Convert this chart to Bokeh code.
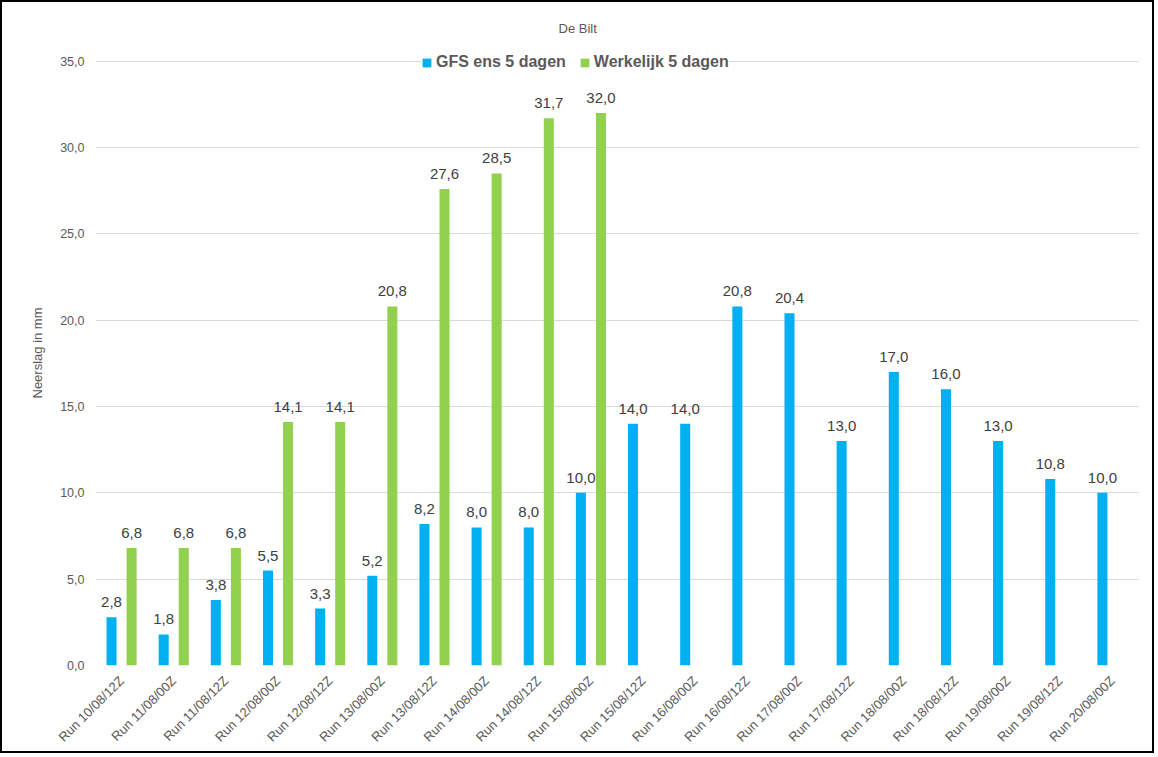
from bokeh.plotting import figure
from bokeh.models import ColumnDataSource, FactorRange, LabelSet, CustomJSTickFormatter, Legend, LegendItem, Range1d
from bokeh.transform import dodge
from bokeh.embed import file_html
from bokeh.resources import INLINE
from bokeh.core.properties import value
import math

categories = ["Run 10/08/12Z", "Run 11/08/00Z", "Run 11/08/12Z", "Run 12/08/00Z", "Run 12/08/12Z",
              "Run 13/08/00Z", "Run 13/08/12Z", "Run 14/08/00Z", "Run 14/08/12Z", "Run 15/08/00Z",
              "Run 15/08/12Z", "Run 16/08/00Z", "Run 16/08/12Z", "Run 17/08/00Z", "Run 17/08/12Z",
              "Run 18/08/00Z", "Run 18/08/12Z", "Run 19/08/00Z", "Run 19/08/12Z", "Run 20/08/00Z"]
gfs = [2.8, 1.8, 3.8, 5.5, 3.3, 5.2, 8.2, 8.0, 8.0, 10.0, 14.0, 14.0, 20.8, 20.4, 13.0, 17.0, 16.0, 13.0, 10.8, 10.0]
werkelijk = [6.8, 6.8, 6.8, 14.1, 14.1, 20.8, 27.6, 28.5, 31.7, 32.0]
y_ticks = [0, 5, 10, 15, 20, 25, 30, 35]

BLUE = "#00B0F0"
GREEN = "#92D050"
TXT = "#595959"
FONT = "Liberation Sans"

def fmt(v):
    return ("%.1f" % v).replace(".", ",")

src_g = ColumnDataSource(dict(cat=categories, v=gfs, lab=[fmt(v) for v in gfs]))
src_w = ColumnDataSource(dict(cat=categories[:len(werkelijk)], v=werkelijk, lab=[fmt(v) for v in werkelijk]))

p = figure(width=1154, height=753, x_range=FactorRange(*categories), y_range=Range1d(0, 36.2),
           output_backend="svg", toolbar_location=None, title="De Bilt",
           min_border_left=93, min_border_right=18, min_border_top=38, min_border_bottom=90)
p.styles = {"border": "2px solid black"}

p.title.align = "left"
p.title.offset = 463
p.title.standoff = 9
p.title.text_font = FONT
p.title.text_font_size = "13px"
p.title.text_font_style = "normal"
p.title.text_color = TXT

off = 10.0 / 52.0
rg = p.vbar(x=dodge("cat", -off, range=p.x_range), top="v", width=off, source=src_g,
            fill_color=BLUE, line_color=None)
rw = p.vbar(x=dodge("cat", off, range=p.x_range), top="v", width=off, source=src_w,
            fill_color=GREEN, line_color=None)

for src, d in ((src_g, -off), (src_w, off)):
    lbl = LabelSet(x=dodge("cat", d, range=p.x_range), y="v", text="lab", source=src,
                   text_align="center", text_baseline="bottom", y_offset=10,
                   text_font=value(FONT), text_font_size="15px", text_color="#404040")
    p.add_layout(lbl)

p.yaxis.ticker = y_ticks
p.yaxis.formatter = CustomJSTickFormatter(code="return tick.toFixed(1).replace('.', ',');")
p.yaxis.axis_label = "Neerslag in mm"
p.yaxis.axis_label_text_font = FONT
p.yaxis.axis_label_text_font_size = "13px"
p.yaxis.axis_label_text_font_style = "normal"
p.yaxis.axis_label_text_color = TXT
p.yaxis.axis_label_standoff = 12

for ax in (p.xaxis, p.yaxis):
    ax.axis_line_color = None
    ax.major_tick_line_color = None
    ax.minor_tick_line_color = None
    ax.major_label_text_font = FONT
    ax.major_label_text_font_size = "12.5px"
    ax.major_label_text_color = TXT
p.xaxis.major_label_text_font_size = "13px"
p.yaxis.major_label_standoff = 5
p.xaxis.major_label_orientation = math.pi / 4
p.xaxis.major_label_standoff = 7

p.xgrid.grid_line_color = None
p.ygrid.grid_line_color = "#D9D9D9"
p.ygrid.ticker = y_ticks
p.outline_line_color = None
p.x_range.range_padding = 0.0

legend = Legend(items=[LegendItem(label="GFS ens 5 dagen", renderers=[rg]),
                       LegendItem(label="Werkelijk 5 dagen", renderers=[rw])],
                orientation="horizontal", location=(326, 594),
                label_text_font=FONT, label_text_font_size="16px", label_text_font_style="bold",
                label_text_color=TXT, glyph_width=11, glyph_height=11, spacing=13,
                padding=6, margin=0, border_line_color=None, background_fill_alpha=1.0,
                label_standoff=4)
p.add_layout(legend)

open("out.html", "w").write(file_html(p, INLINE))
